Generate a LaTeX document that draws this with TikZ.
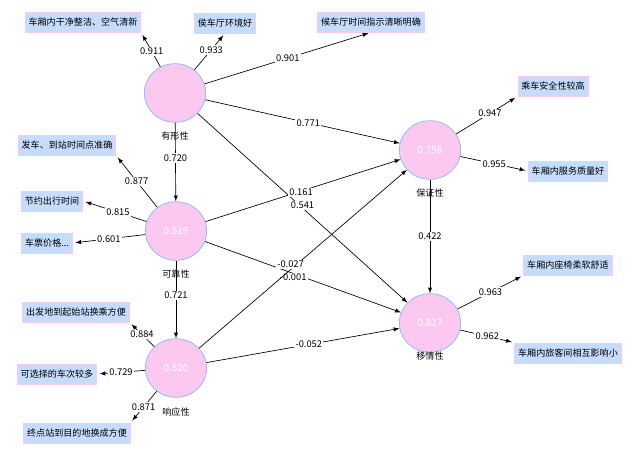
\documentclass[tikz,border=0pt]{standalone}
\usepackage{fontspec}
\setmainfont{Noto Sans CJK SC}
\usetikzlibrary{shapes.geometric}
\begin{document}
\begin{tikzpicture}[x=0.75pt,y=-0.75pt,
  lv/.style={ellipse,minimum width=46pt,minimum height=44pt,fill={rgb,255:red,253;green,200;blue,240},draw={rgb,255:red,140;green,190;blue,250},line width=0.6pt,text=white,font=\fontsize{7.5}{8}\selectfont,inner sep=0pt},
  box/.style={fill={rgb,255:red,198;green,220;blue,252},draw={rgb,255:red,250;green,200;blue,240},line width=0.6pt,font=\fontsize{6.8}{7}\selectfont,inner sep=2.5pt,minimum height=15pt},
  nm/.style={font=\fontsize{6.8}{7}\selectfont},
  w/.style={fill=white,inner sep=1pt,font=\fontsize{7}{7}\selectfont},
  ar/.style={draw,-latex,line width=0.5pt},
  ld/.style={draw,-latex,line width=0.5pt,shorten >=2pt}]
\useasboundingbox (0,0) rectangle (641,464);
\node[lv] (T) at (175,93) {};
\node[lv] (R) at (176,231) {0.519};
\node[lv] (S) at (176,368) {0.520};
\node[lv] (A) at (430,150) {0.758};
\node[lv] (E) at (430,323) {0.817};
\node[nm] (Tn) at (175,136) {有形性};
\node[nm] (Rn) at (176,274) {可靠性};
\node[nm] (Sn) at (176,412) {响应性};
\node[nm] (An) at (430,193) {保证性};
\node[nm] (En) at (430,356) {移情性};
\node[box] (b1) at (83,22) {车厢内干净整洁、空气清新};
\node[box] (b2) at (225,23) {侯车厅环境好};
\node[box] (b3) at (371,22) {候车厅时间指示清晰明确};
\node[box] (b4) at (67,145) {发车、到站时间点准确};
\node[box] (b5) at (52,201) {节约出行时间};
\node[box] (b6) at (47,243) {车票价格...};
\node[box] (b7) at (76,312) {出发地到起始站换乘方便};
\node[box] (b8) at (57,374) {可选择的车次较多};
\node[box] (b9) at (77,433) {终点站到目的地换成方便};
\node[box] (b10) at (553,86) {乘车安全性较高};
\node[box] (b11) at (568,171) {车厢内服务质量好};
\node[box] (b12) at (568,265) {车厢内座椅柔软舒适};
\node[box] (b13) at (568,353) {车厢内旅客间相互影响小};
% structural
\draw[ar] (T) -- node[w,pos=0.45]{0.720} (R);
\draw[ar] (R) -- node[w,pos=0.45]{0.721} (S);
\draw[ar] (T) -- node[w,pos=0.53]{0.771} (A);
\draw[ar] (T) -- node[w,pos=0.5,yshift=2pt]{0.541} (E);
\draw[ar] (R) -- node[w,pos=0.49,yshift=-1pt]{0.161} (A);
\draw[ar] (R) -- node[w,pos=0.45,yshift=-3pt]{-0.001} (E);
\draw[ar] (S) -- node[w,pos=0.44,yshift=4pt]{-0.027} (A);
\draw[ar] (S) -- node[w,pos=0.53]{-0.052} (E);
\draw[ar] (A) -- node[w,pos=0.5]{0.422} (E);
% loadings
\draw[ld] (T) -- node[w,pos=0.45]{0.911} (b1.south east);
\draw[ld] (T) -- node[w,pos=0.55]{0.933} (b2.south);
\draw[ld] (T) -- node[w,pos=0.5]{0.901} (b3.south);
\draw[ld] (R) -- node[w,pos=0.5]{0.877} (b4.south east);
\draw[ld] (R) -- node[w,pos=0.45]{0.815} (b5.east);
\draw[ld] (R) -- node[w,pos=0.5]{0.601} (b6.east);
\draw[ld] (S) -- node[w,pos=0.5]{0.884} (b7.south east);
\draw[ld] (S) -- node[w,pos=0.5]{0.729} (b8.east);
\draw[ld] (S) -- node[w,pos=0.5]{0.871} (b9.north east);
\draw[ld] (A) -- node[w,pos=0.55]{0.947} (b10.south west);
\draw[ld] (A) -- node[w,pos=0.5]{0.955} (b11.west);
\draw[ld] (E) -- node[w,pos=0.5]{0.963} (b12.south west);
\draw[ld] (E) -- node[w,pos=0.5]{0.962} (b13.north west);
\end{tikzpicture}
\end{document}
